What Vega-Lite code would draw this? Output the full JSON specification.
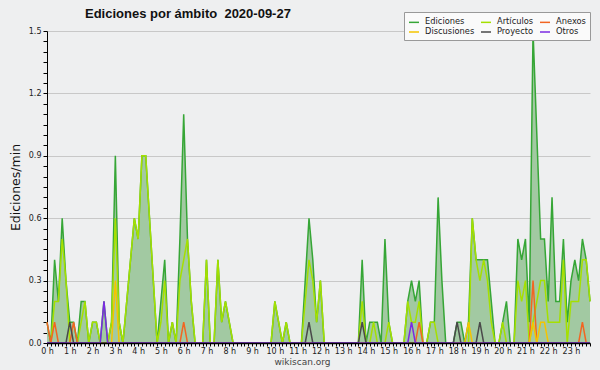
{
"$schema": "https://vega.github.io/schema/vega-lite/v6.json",
"width": 543,
"height": 312,
"autosize": {"type": "none"},
"padding": {"left": 47, "top": 31, "right": 10, "bottom": 27},
"background": "#eeeff0",
"config": {"view": {"stroke": null}, "font": "DejaVu Sans"},
"title": {"text": "Ediciones por ámbito\u00a0 2020-09-27", "anchor": "start", "frame": "group", "dx": 38, "dy": 15, "offset": 6, "font": "Liberation Sans", "fontSize": 13, "fontWeight": "bold", "color": "#111"},
"data": {"values": [
{"m":0,"Ediciones":0.1,"Artículos":0,"Anexos":0.1,"Discusiones":0,"Proyecto":0,"Otros":0},
{"m":10,"Ediciones":0,"Artículos":0,"Anexos":0,"Discusiones":0,"Proyecto":0,"Otros":0},
{"m":20,"Ediciones":0.4,"Artículos":0.2,"Anexos":0.1,"Discusiones":0,"Proyecto":0,"Otros":0},
{"m":30,"Ediciones":0.2,"Artículos":0.2,"Anexos":0,"Discusiones":0,"Proyecto":0,"Otros":0},
{"m":40,"Ediciones":0.6,"Artículos":0.5,"Anexos":0,"Discusiones":0,"Proyecto":0,"Otros":0},
{"m":50,"Ediciones":0.3,"Artículos":0.3,"Anexos":0,"Discusiones":0,"Proyecto":0,"Otros":0},
{"m":60,"Ediciones":0.1,"Artículos":0,"Anexos":0,"Discusiones":0,"Proyecto":0.1,"Otros":0},
{"m":70,"Ediciones":0.1,"Artículos":0,"Anexos":0.1,"Discusiones":0,"Proyecto":0,"Otros":0},
{"m":80,"Ediciones":0,"Artículos":0,"Anexos":0,"Discusiones":0,"Proyecto":0,"Otros":0},
{"m":90,"Ediciones":0.2,"Artículos":0.1,"Anexos":0,"Discusiones":0,"Proyecto":0,"Otros":0},
{"m":100,"Ediciones":0.2,"Artículos":0.2,"Anexos":0,"Discusiones":0,"Proyecto":0,"Otros":0},
{"m":110,"Ediciones":0,"Artículos":0,"Anexos":0,"Discusiones":0,"Proyecto":0,"Otros":0},
{"m":120,"Ediciones":0.1,"Artículos":0.1,"Anexos":0,"Discusiones":0,"Proyecto":0,"Otros":0},
{"m":130,"Ediciones":0.1,"Artículos":0.1,"Anexos":0,"Discusiones":0,"Proyecto":0,"Otros":0},
{"m":140,"Ediciones":0,"Artículos":0,"Anexos":0,"Discusiones":0,"Proyecto":0,"Otros":0},
{"m":150,"Ediciones":0.2,"Artículos":0,"Anexos":0,"Discusiones":0,"Proyecto":0,"Otros":0.2},
{"m":160,"Ediciones":0,"Artículos":0,"Anexos":0,"Discusiones":0,"Proyecto":0,"Otros":0},
{"m":170,"Ediciones":0.1,"Artículos":0.1,"Anexos":0,"Discusiones":0,"Proyecto":0,"Otros":0},
{"m":180,"Ediciones":0.9,"Artículos":0.6,"Anexos":0,"Discusiones":0.3,"Proyecto":0,"Otros":0},
{"m":190,"Ediciones":0.1,"Artículos":0.1,"Anexos":0,"Discusiones":0,"Proyecto":0,"Otros":0},
{"m":200,"Ediciones":0,"Artículos":0,"Anexos":0,"Discusiones":0,"Proyecto":0,"Otros":0},
{"m":210,"Ediciones":0.2,"Artículos":0.2,"Anexos":0,"Discusiones":0,"Proyecto":0,"Otros":0},
{"m":220,"Ediciones":0.4,"Artículos":0.4,"Anexos":0,"Discusiones":0,"Proyecto":0,"Otros":0},
{"m":230,"Ediciones":0.6,"Artículos":0.6,"Anexos":0,"Discusiones":0,"Proyecto":0,"Otros":0},
{"m":240,"Ediciones":0.5,"Artículos":0.5,"Anexos":0,"Discusiones":0,"Proyecto":0,"Otros":0},
{"m":250,"Ediciones":0.9,"Artículos":0.9,"Anexos":0,"Discusiones":0,"Proyecto":0,"Otros":0},
{"m":260,"Ediciones":0.9,"Artículos":0.9,"Anexos":0,"Discusiones":0,"Proyecto":0,"Otros":0},
{"m":270,"Ediciones":0.6,"Artículos":0.6,"Anexos":0,"Discusiones":0,"Proyecto":0,"Otros":0},
{"m":280,"Ediciones":0.3,"Artículos":0.3,"Anexos":0,"Discusiones":0,"Proyecto":0,"Otros":0},
{"m":290,"Ediciones":0,"Artículos":0,"Anexos":0,"Discusiones":0,"Proyecto":0,"Otros":0},
{"m":300,"Ediciones":0.2,"Artículos":0.1,"Anexos":0,"Discusiones":0,"Proyecto":0,"Otros":0},
{"m":310,"Ediciones":0.4,"Artículos":0.3,"Anexos":0,"Discusiones":0,"Proyecto":0,"Otros":0},
{"m":320,"Ediciones":0,"Artículos":0,"Anexos":0,"Discusiones":0,"Proyecto":0,"Otros":0},
{"m":330,"Ediciones":0.1,"Artículos":0.1,"Anexos":0,"Discusiones":0,"Proyecto":0,"Otros":0},
{"m":340,"Ediciones":0,"Artículos":0,"Anexos":0,"Discusiones":0,"Proyecto":0,"Otros":0},
{"m":350,"Ediciones":0.5,"Artículos":0.3,"Anexos":0,"Discusiones":0,"Proyecto":0,"Otros":0},
{"m":360,"Ediciones":1.1,"Artículos":0.4,"Anexos":0.1,"Discusiones":0,"Proyecto":0,"Otros":0},
{"m":370,"Ediciones":0.5,"Artículos":0.5,"Anexos":0,"Discusiones":0,"Proyecto":0,"Otros":0},
{"m":380,"Ediciones":0.2,"Artículos":0.2,"Anexos":0,"Discusiones":0,"Proyecto":0,"Otros":0},
{"m":390,"Ediciones":0,"Artículos":0,"Anexos":0,"Discusiones":0,"Proyecto":0,"Otros":0},
{"m":400,"Ediciones":0,"Artículos":0,"Anexos":0,"Discusiones":0,"Proyecto":0,"Otros":0},
{"m":410,"Ediciones":0,"Artículos":0,"Anexos":0,"Discusiones":0,"Proyecto":0,"Otros":0},
{"m":420,"Ediciones":0.4,"Artículos":0.4,"Anexos":0,"Discusiones":0,"Proyecto":0,"Otros":0},
{"m":430,"Ediciones":0,"Artículos":0,"Anexos":0,"Discusiones":0,"Proyecto":0,"Otros":0},
{"m":440,"Ediciones":0,"Artículos":0,"Anexos":0,"Discusiones":0,"Proyecto":0,"Otros":0},
{"m":450,"Ediciones":0.4,"Artículos":0.4,"Anexos":0,"Discusiones":0,"Proyecto":0,"Otros":0},
{"m":460,"Ediciones":0.1,"Artículos":0.1,"Anexos":0,"Discusiones":0,"Proyecto":0,"Otros":0},
{"m":470,"Ediciones":0.2,"Artículos":0.2,"Anexos":0,"Discusiones":0,"Proyecto":0,"Otros":0},
{"m":480,"Ediciones":0.1,"Artículos":0.1,"Anexos":0,"Discusiones":0,"Proyecto":0,"Otros":0},
{"m":490,"Ediciones":0,"Artículos":0,"Anexos":0,"Discusiones":0,"Proyecto":0,"Otros":0},
{"m":500,"Ediciones":0,"Artículos":0,"Anexos":0,"Discusiones":0,"Proyecto":0,"Otros":0},
{"m":510,"Ediciones":0,"Artículos":0,"Anexos":0,"Discusiones":0,"Proyecto":0,"Otros":0},
{"m":520,"Ediciones":0,"Artículos":0,"Anexos":0,"Discusiones":0,"Proyecto":0,"Otros":0},
{"m":530,"Ediciones":0,"Artículos":0,"Anexos":0,"Discusiones":0,"Proyecto":0,"Otros":0},
{"m":540,"Ediciones":0,"Artículos":0,"Anexos":0,"Discusiones":0,"Proyecto":0,"Otros":0},
{"m":550,"Ediciones":0,"Artículos":0,"Anexos":0,"Discusiones":0,"Proyecto":0,"Otros":0},
{"m":560,"Ediciones":0,"Artículos":0,"Anexos":0,"Discusiones":0,"Proyecto":0,"Otros":0},
{"m":570,"Ediciones":0,"Artículos":0,"Anexos":0,"Discusiones":0,"Proyecto":0,"Otros":0},
{"m":580,"Ediciones":0,"Artículos":0,"Anexos":0,"Discusiones":0,"Proyecto":0,"Otros":0},
{"m":590,"Ediciones":0,"Artículos":0,"Anexos":0,"Discusiones":0,"Proyecto":0,"Otros":0},
{"m":600,"Ediciones":0.2,"Artículos":0.2,"Anexos":0,"Discusiones":0,"Proyecto":0,"Otros":0},
{"m":610,"Ediciones":0.1,"Artículos":0.1,"Anexos":0,"Discusiones":0,"Proyecto":0,"Otros":0},
{"m":620,"Ediciones":0,"Artículos":0,"Anexos":0,"Discusiones":0,"Proyecto":0,"Otros":0},
{"m":630,"Ediciones":0.1,"Artículos":0.1,"Anexos":0,"Discusiones":0,"Proyecto":0,"Otros":0},
{"m":640,"Ediciones":0,"Artículos":0,"Anexos":0,"Discusiones":0,"Proyecto":0,"Otros":0},
{"m":650,"Ediciones":0,"Artículos":0,"Anexos":0,"Discusiones":0,"Proyecto":0,"Otros":0},
{"m":660,"Ediciones":0,"Artículos":0,"Anexos":0,"Discusiones":0,"Proyecto":0,"Otros":0},
{"m":670,"Ediciones":0,"Artículos":0,"Anexos":0,"Discusiones":0,"Proyecto":0,"Otros":0},
{"m":680,"Ediciones":0.3,"Artículos":0.2,"Anexos":0,"Discusiones":0,"Proyecto":0,"Otros":0},
{"m":690,"Ediciones":0.6,"Artículos":0.4,"Anexos":0,"Discusiones":0,"Proyecto":0.1,"Otros":0},
{"m":700,"Ediciones":0.4,"Artículos":0.3,"Anexos":0,"Discusiones":0,"Proyecto":0,"Otros":0},
{"m":710,"Ediciones":0.1,"Artículos":0.1,"Anexos":0,"Discusiones":0,"Proyecto":0,"Otros":0},
{"m":720,"Ediciones":0.3,"Artículos":0.3,"Anexos":0,"Discusiones":0,"Proyecto":0,"Otros":0},
{"m":730,"Ediciones":0,"Artículos":0,"Anexos":0,"Discusiones":0,"Proyecto":0,"Otros":0},
{"m":740,"Ediciones":0,"Artículos":0,"Anexos":0,"Discusiones":0,"Proyecto":0,"Otros":0},
{"m":750,"Ediciones":0,"Artículos":0,"Anexos":0,"Discusiones":0,"Proyecto":0,"Otros":0},
{"m":760,"Ediciones":0,"Artículos":0,"Anexos":0,"Discusiones":0,"Proyecto":0,"Otros":0},
{"m":770,"Ediciones":0,"Artículos":0,"Anexos":0,"Discusiones":0,"Proyecto":0,"Otros":0},
{"m":780,"Ediciones":0,"Artículos":0,"Anexos":0,"Discusiones":0,"Proyecto":0,"Otros":0},
{"m":790,"Ediciones":0,"Artículos":0,"Anexos":0,"Discusiones":0,"Proyecto":0,"Otros":0},
{"m":800,"Ediciones":0,"Artículos":0,"Anexos":0,"Discusiones":0,"Proyecto":0,"Otros":0},
{"m":810,"Ediciones":0,"Artículos":0,"Anexos":0,"Discusiones":0,"Proyecto":0,"Otros":0},
{"m":820,"Ediciones":0,"Artículos":0,"Anexos":0,"Discusiones":0,"Proyecto":0,"Otros":0},
{"m":830,"Ediciones":0.4,"Artículos":0.2,"Anexos":0,"Discusiones":0,"Proyecto":0.1,"Otros":0},
{"m":840,"Ediciones":0,"Artículos":0,"Anexos":0,"Discusiones":0,"Proyecto":0,"Otros":0},
{"m":850,"Ediciones":0.1,"Artículos":0,"Anexos":0,"Discusiones":0,"Proyecto":0,"Otros":0},
{"m":860,"Ediciones":0.1,"Artículos":0.1,"Anexos":0,"Discusiones":0,"Proyecto":0,"Otros":0},
{"m":870,"Ediciones":0.1,"Artículos":0,"Anexos":0,"Discusiones":0,"Proyecto":0,"Otros":0},
{"m":880,"Ediciones":0,"Artículos":0,"Anexos":0,"Discusiones":0,"Proyecto":0,"Otros":0},
{"m":890,"Ediciones":0.5,"Artículos":0,"Anexos":0,"Discusiones":0,"Proyecto":0,"Otros":0},
{"m":900,"Ediciones":0.1,"Artículos":0.1,"Anexos":0,"Discusiones":0,"Proyecto":0,"Otros":0},
{"m":910,"Ediciones":0,"Artículos":0,"Anexos":0,"Discusiones":0,"Proyecto":0,"Otros":0},
{"m":920,"Ediciones":0,"Artículos":0,"Anexos":0,"Discusiones":0,"Proyecto":0,"Otros":0},
{"m":930,"Ediciones":0,"Artículos":0,"Anexos":0,"Discusiones":0,"Proyecto":0,"Otros":0},
{"m":940,"Ediciones":0,"Artículos":0,"Anexos":0,"Discusiones":0,"Proyecto":0,"Otros":0},
{"m":950,"Ediciones":0.2,"Artículos":0.2,"Anexos":0,"Discusiones":0,"Proyecto":0,"Otros":0},
{"m":960,"Ediciones":0.3,"Artículos":0.1,"Anexos":0,"Discusiones":0,"Proyecto":0,"Otros":0.1},
{"m":970,"Ediciones":0.2,"Artículos":0.1,"Anexos":0,"Discusiones":0,"Proyecto":0,"Otros":0},
{"m":980,"Ediciones":0.3,"Artículos":0.2,"Anexos":0.1,"Discusiones":0,"Proyecto":0,"Otros":0},
{"m":990,"Ediciones":0,"Artículos":0,"Anexos":0,"Discusiones":0,"Proyecto":0,"Otros":0},
{"m":1000,"Ediciones":0,"Artículos":0,"Anexos":0,"Discusiones":0,"Proyecto":0,"Otros":0},
{"m":1010,"Ediciones":0.1,"Artículos":0.1,"Anexos":0,"Discusiones":0,"Proyecto":0,"Otros":0},
{"m":1020,"Ediciones":0.1,"Artículos":0.1,"Anexos":0,"Discusiones":0,"Proyecto":0,"Otros":0},
{"m":1030,"Ediciones":0.7,"Artículos":0,"Anexos":0,"Discusiones":0,"Proyecto":0,"Otros":0},
{"m":1040,"Ediciones":0.3,"Artículos":0,"Anexos":0,"Discusiones":0,"Proyecto":0,"Otros":0},
{"m":1050,"Ediciones":0,"Artículos":0,"Anexos":0,"Discusiones":0,"Proyecto":0,"Otros":0},
{"m":1060,"Ediciones":0,"Artículos":0,"Anexos":0,"Discusiones":0,"Proyecto":0,"Otros":0},
{"m":1070,"Ediciones":0,"Artículos":0,"Anexos":0,"Discusiones":0,"Proyecto":0,"Otros":0},
{"m":1080,"Ediciones":0.1,"Artículos":0,"Anexos":0,"Discusiones":0,"Proyecto":0.1,"Otros":0},
{"m":1090,"Ediciones":0.1,"Artículos":0,"Anexos":0,"Discusiones":0,"Proyecto":0,"Otros":0},
{"m":1100,"Ediciones":0,"Artículos":0,"Anexos":0,"Discusiones":0,"Proyecto":0,"Otros":0},
{"m":1110,"Ediciones":0.1,"Artículos":0,"Anexos":0,"Discusiones":0.1,"Proyecto":0,"Otros":0},
{"m":1120,"Ediciones":0.6,"Artículos":0.6,"Anexos":0,"Discusiones":0,"Proyecto":0,"Otros":0},
{"m":1130,"Ediciones":0.4,"Artículos":0.4,"Anexos":0,"Discusiones":0,"Proyecto":0,"Otros":0},
{"m":1140,"Ediciones":0.4,"Artículos":0.3,"Anexos":0,"Discusiones":0,"Proyecto":0.1,"Otros":0},
{"m":1150,"Ediciones":0.4,"Artículos":0.4,"Anexos":0,"Discusiones":0,"Proyecto":0,"Otros":0},
{"m":1160,"Ediciones":0.4,"Artículos":0.3,"Anexos":0,"Discusiones":0,"Proyecto":0,"Otros":0},
{"m":1170,"Ediciones":0.2,"Artículos":0.1,"Anexos":0,"Discusiones":0,"Proyecto":0,"Otros":0},
{"m":1180,"Ediciones":0,"Artículos":0,"Anexos":0,"Discusiones":0,"Proyecto":0,"Otros":0},
{"m":1190,"Ediciones":0,"Artículos":0,"Anexos":0,"Discusiones":0,"Proyecto":0,"Otros":0},
{"m":1200,"Ediciones":0.1,"Artículos":0.1,"Anexos":0,"Discusiones":0,"Proyecto":0,"Otros":0},
{"m":1210,"Ediciones":0.2,"Artículos":0,"Anexos":0,"Discusiones":0,"Proyecto":0,"Otros":0},
{"m":1220,"Ediciones":0,"Artículos":0,"Anexos":0,"Discusiones":0,"Proyecto":0,"Otros":0},
{"m":1230,"Ediciones":0,"Artículos":0,"Anexos":0,"Discusiones":0,"Proyecto":0,"Otros":0},
{"m":1240,"Ediciones":0.5,"Artículos":0.3,"Anexos":0,"Discusiones":0,"Proyecto":0,"Otros":0},
{"m":1250,"Ediciones":0.4,"Artículos":0.2,"Anexos":0,"Discusiones":0,"Proyecto":0,"Otros":0},
{"m":1260,"Ediciones":0.5,"Artículos":0.3,"Anexos":0,"Discusiones":0,"Proyecto":0,"Otros":0},
{"m":1270,"Ediciones":0.1,"Artículos":0,"Anexos":0,"Discusiones":0,"Proyecto":0,"Otros":0},
{"m":1280,"Ediciones":1.5,"Artículos":0.1,"Anexos":0.3,"Discusiones":0.1,"Proyecto":0,"Otros":0},
{"m":1290,"Ediciones":1.0,"Artículos":0.2,"Anexos":0,"Discusiones":0,"Proyecto":0,"Otros":0},
{"m":1300,"Ediciones":0.5,"Artículos":0.3,"Anexos":0,"Discusiones":0.1,"Proyecto":0,"Otros":0},
{"m":1310,"Ediciones":0.5,"Artículos":0.3,"Anexos":0,"Discusiones":0.1,"Proyecto":0,"Otros":0},
{"m":1320,"Ediciones":0.2,"Artículos":0.1,"Anexos":0,"Discusiones":0,"Proyecto":0,"Otros":0},
{"m":1330,"Ediciones":0.7,"Artículos":0.1,"Anexos":0,"Discusiones":0,"Proyecto":0,"Otros":0},
{"m":1340,"Ediciones":0.2,"Artículos":0.1,"Anexos":0,"Discusiones":0,"Proyecto":0,"Otros":0},
{"m":1350,"Ediciones":0.2,"Artículos":0.1,"Anexos":0,"Discusiones":0,"Proyecto":0,"Otros":0},
{"m":1360,"Ediciones":0.5,"Artículos":0.4,"Anexos":0,"Discusiones":0,"Proyecto":0,"Otros":0},
{"m":1370,"Ediciones":0.1,"Artículos":0,"Anexos":0,"Discusiones":0,"Proyecto":0,"Otros":0},
{"m":1380,"Ediciones":0.3,"Artículos":0.2,"Anexos":0,"Discusiones":0,"Proyecto":0,"Otros":0},
{"m":1390,"Ediciones":0.4,"Artículos":0.2,"Anexos":0,"Discusiones":0,"Proyecto":0,"Otros":0},
{"m":1400,"Ediciones":0.3,"Artículos":0.2,"Anexos":0,"Discusiones":0,"Proyecto":0,"Otros":0},
{"m":1410,"Ediciones":0.5,"Artículos":0.4,"Anexos":0.1,"Discusiones":0,"Proyecto":0,"Otros":0},
{"m":1420,"Ediciones":0.4,"Artículos":0.4,"Anexos":0,"Discusiones":0,"Proyecto":0,"Otros":0},
{"m":1430,"Ediciones":0.2,"Artículos":0.2,"Anexos":0,"Discusiones":0,"Proyecto":0,"Otros":0}
]},
"encoding": {
"x": {"field": "m", "type": "quantitative", "scale": {"domain": [0,1430], "nice": false, "zero": false},
"axis": {"title": "wikiscan.org", "values": [0,10,20,30,40,50,60,70,80,90,100,110,120,130,140,150,160,170,180,190,200,210,220,230,240,250,260,270,280,290,300,310,320,330,340,350,360,370,380,390,400,410,420,430,440,450,460,470,480,490,500,510,520,530,540,550,560,570,580,590,600,610,620,630,640,650,660,670,680,690,700,710,720,730,740,750,760,770,780,790,800,810,820,830,840,850,860,870,880,890,900,910,920,930,940,950,960,970,980,990,1000,1010,1020,1030,1040,1050,1060,1070,1080,1090,1100,1110,1120,1130,1140,1150,1160,1170,1180,1190,1200,1210,1220,1230,1240,1250,1260,1270,1280,1290,1300,1310,1320,1330,1340,1350,1360,1370,1380,1390,1400,1410,1420,1430],
"labelExpr": "datum.value % 60 === 0 ? (datum.value / 60) + ' h' : ''",
"grid": false, "domainColor": "#000", "domainWidth": 1.5, "tickColor": "#000", "tickSize": 3, "labelFontSize": 8, "labelColor": "#222", "labelPadding": 1, "labelFlush": false, "labelOverlap": false, "labelBound": false,
"titleFontSize": 9, "titleFontWeight": "normal", "titleColor": "#444", "titlePadding": 2, "titleX": 255, "zindex": 1}},
"y": {"field": "valor", "type": "quantitative", "scale": {"domain": [0,1.5], "nice": false},
"axis": {"title": "Ediciones/min", "values": [0,0.05,0.1,0.15,0.2,0.25,0.3,0.35,0.4,0.45,0.5,0.55,0.6,0.65,0.7,0.75,0.8,0.85,0.9,0.95,1,1.05,1.1,1.15,1.2,1.25,1.3,1.35,1.4,1.45,1.5],
"labelExpr": "abs(datum.value / 0.3 - round(datum.value / 0.3)) < 0.01 ? format(datum.value, '.1f') : ''",
"grid": true, "gridColor": "#c8c8c8", "gridOpacity": {"condition": {"test": "abs(datum.value / 0.3 - round(datum.value / 0.3)) < 0.01", "value": 1}, "value": 0},
"domainColor": "#000", "tickColor": "#000", "tickSize": 4, "labelFontSize": 8, "labelColor": "#222", "labelPadding": 2, "labelOverlap": false, "labelFlush": false,
"titleFontSize": 12.5, "titleFontWeight": "normal", "titleColor": "#111", "titlePadding": 6, "zindex": 0}}
},
"layer": [
{
"transform": [{"fold": ["Ediciones","Artículos","Anexos","Discusiones","Proyecto","Otros"], "as": ["serie","valor"]}, {"filter": "datum.serie === 'Ediciones'"}],
"mark": {"type": "area", "color": "#a2c9a2", "opacity": 1}
},
{
"transform": [{"fold": ["Ediciones","Artículos","Anexos","Discusiones","Proyecto","Otros"], "as": ["serie","valor"]}],
"mark": {"type": "line", "strokeWidth": 1.5},
"encoding": {
"color": {"field": "serie", "type": "nominal",
"scale": {"domain": ["Ediciones","Artículos","Anexos","Discusiones","Proyecto","Otros"], "range": ["#36a636","#a5e000","#f26522","#f5c400","#4a4a4a","#7b2be2"]},
"legend": {"title": null, "orient": "none", "legendX": 357, "legendY": -19, "direction": "horizontal", "columns": 3, "symbolType": "stroke", "symbolSize": 100, "symbolStrokeWidth": 1.5, "labelFont": "DejaVu Sans", "labelFontSize": 8.3, "labelColor": "#222", "labelOffset": 5, "columnPadding": 3, "rowPadding": 0, "padding": 4, "fillColor": "#fafafa", "strokeColor": "#999"}}
}
},
{
"data": {"values": [{}]},
"mark": {"type": "text", "text": "CC BY-SA 3.0", "align": "right", "baseline": "middle", "dy": 19, "dx": 1, "fontSize": 7, "color": "#555"},
"encoding": {
"x": {"datum": 1430, "type": "quantitative"},
"y": {"datum": 0, "type": "quantitative"}
}
}
]
}
